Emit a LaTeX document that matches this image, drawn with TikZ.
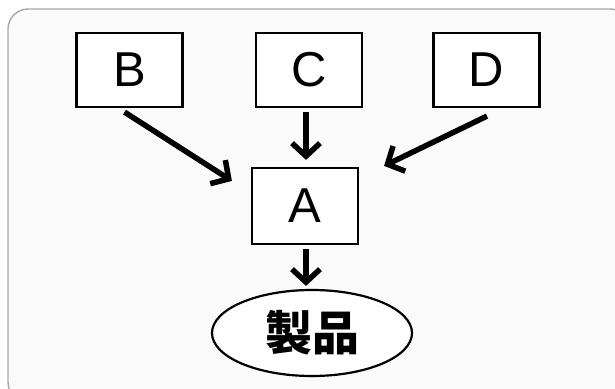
\documentclass[tikz,border=0pt]{standalone}
\usepackage{fontspec}
\setmainfont{Liberation Sans}
\newfontfamily\cjk{Noto Sans CJK JP Black}
\usetikzlibrary{arrows.meta,shapes.geometric}
\definecolor{framegray}{HTML}{A8A8A8}
\definecolor{paper}{HTML}{FAFAFA}
\tikzset{
  stepbox/.style={draw=black, line width=2.2pt, fill=white, minimum width=106pt,
    minimum height=74pt, inner sep=0pt, font=\fontsize{49}{49}\selectfont},
  product/.style={ellipse, draw=black, line width=2.2pt, fill=white,
    minimum width=200pt, minimum height=86pt, inner sep=0pt,
    font=\cjk\fontsize{47}{47}\selectfont},
  flow/.style={line width=5.5pt, -{Straight Barb[length=13pt, width=28pt]}}
}
\begin{document}
\begin{tikzpicture}[x=1pt, y=-1pt]
\useasboundingbox (0,0) rectangle (615,388);
\clip (0,0) rectangle (615,388);
% background panel
\draw[framegray, line width=1.4pt, fill=paper, rounded corners=20pt] (8,9) rectangle (630,402);
% nodes
\node[stepbox] (B) at (129.5,70) {B};
\node[stepbox] (C) at (309,70) {C};
\node[stepbox] (D) at (486.5,70) {D};
\node[stepbox, minimum height=76pt] (A) at (305,206) {A};
\node[product] (P) at (312,333) {製品};
% connectors
\draw[flow] ([shift={(-5,4)}]B.south) -- ([shift={(-19,14)}]A.north west);
\draw[flow] ([shift={(-3,4)}]C.south) -- ([shift={(1,-7)}]A.north);
\draw[flow] ([shift={(0.5,8)}]D.south) -- ([shift={(25,-1)}]A.north east);
\draw[flow] ([shift={(1,4)}]A.south) -- ([shift={(-6,-3)}]P.north);
\end{tikzpicture}
\end{document}
